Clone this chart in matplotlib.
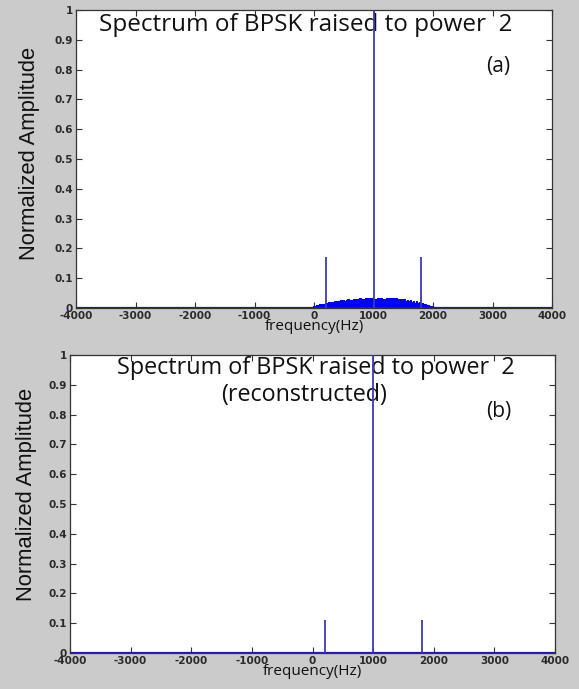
import numpy as np
import matplotlib
matplotlib.use("Agg")
import matplotlib.pyplot as plt

# ---------------- data ----------------
spike_freqs = [200, 1000, 1800]
spike_amps_a = [0.17, 1.0, 0.17]
spike_amps_b = [0.11, 1.0, 0.11]

noise_freqs = list(range(-50, 2100, 25))
noise_amps = [0, 4, 7, 5, 10, 8, 13, 11, 15, 13, 17, 14, 19, 17, 21, 16, 22, 19, 24, 21,
              26, 23, 27, 22, 26, 29, 24, 28, 25, 31, 26, 30, 24, 32, 27, 31, 25, 33,
              28, 34, 27, 32, 26, 31, 28, 34, 27, 32, 25, 31, 28, 33, 26, 32, 29, 35,
              27, 33, 28, 31, 25, 30, 24, 29, 23, 27, 22, 26, 20, 24, 18, 22, 16, 19,
              14, 16, 12, 14, 9, 11, 7, 8, 5, 3, 0]
noise_amps = [v / 1000.0 for v in noise_amps]
noise_freqs = noise_freqs[:len(noise_amps)]

xticks = [-4000, -3000, -2000, -1000, 0, 1000, 2000, 3000, 4000]
yticks = [0, 0.1, 0.2, 0.3, 0.4, 0.5, 0.6, 0.7, 0.8, 0.9, 1]
ytick_labels = ["0", "0.1", "0.2", "0.3", "0.4", "0.5", "0.6", "0.7", "0.8", "0.9", "1"]

title_text = "Spectrum of BPSK raised to power  2"
subtitle_text = "(reconstructed)"
# --------------------------------------

title_font = "Open Sans"
label_font = "Liberation Sans"

W, H = 579, 689
fig = plt.figure(figsize=(W / 100, H / 100), dpi=100)
bg = "#cbcbcb"
fig.patch.set_facecolor(bg)

ax_a = fig.add_axes([76 / W, (H - 308) / H, (552 - 76) / W, 298 / H])
ax_b = fig.add_axes([70 / W, (H - 653) / H, (555 - 70) / W, 298 / H])

spike_color = "#3c3cb4"
for ax, amps in ((ax_a, spike_amps_a), (ax_b, spike_amps_b)):
    ax.set_facecolor("white")
    ax.set_xlim(-4000, 4000)
    ax.set_ylim(0, 1)
    ax.axhline(0, color="#1c1ca0", lw=1.6, zorder=3)
    ax.vlines(spike_freqs, 0, amps, color=spike_color, lw=1.3, zorder=4)
    ax.set_xticks(xticks)
    ax.set_xticklabels([str(t) for t in xticks])
    ax.set_yticks(yticks)
    ax.set_yticklabels(ytick_labels)
    ax.tick_params(direction="in", length=4, width=0.8, color="#333333",
                   top=True, right=True, labelsize=7.5, labelcolor="#2a2a2a", pad=2)
    for lab in ax.get_xticklabels() + ax.get_yticklabels():
        lab.set_fontweight("bold")
    for s in ax.spines.values():
        s.set_color("#333333")
        s.set_linewidth(0.9)
    ax.set_xlabel("frequency(Hz)", fontsize=11, family=title_font, labelpad=-1, color="#111111")
    ax.set_ylabel("Normalized Amplitude", fontsize=15.8, family=label_font, color="#111111")

ax_a.yaxis.set_label_coords(-0.076, 0.517)
ax_b.yaxis.set_label_coords(-0.068, 0.533)

# noise hump in the upper panel
ax_a.fill_between(noise_freqs, 0, noise_amps, step="mid", color="#0000ff", lw=0, zorder=2)
ax_a.plot(noise_freqs, noise_amps, drawstyle="steps-mid", color="#0000ee", lw=0.8, zorder=2)

ax_a.text(0.483, 0.99, title_text, transform=ax_a.transAxes, ha="center", va="top",
          fontsize=17.5, family=title_font, color="#111111")
ax_a.text(0.886, 0.812, "(a)", transform=ax_a.transAxes, ha="center", va="center",
          fontsize=15, family=title_font, color="#111111")

ax_b.text(0.507, 0.995, title_text, transform=ax_b.transAxes,
          ha="center", va="top", fontsize=16.8, family=title_font, color="#111111")
ax_b.text(0.483, 0.907, subtitle_text, transform=ax_b.transAxes,
          ha="center", va="top", fontsize=16.8, family=title_font, color="#111111")
ax_b.text(0.883, 0.812, "(b)", transform=ax_b.transAxes, ha="center", va="center",
          fontsize=15, family=title_font, color="#111111")

fig.savefig("out.png", dpi=100, facecolor=bg)
